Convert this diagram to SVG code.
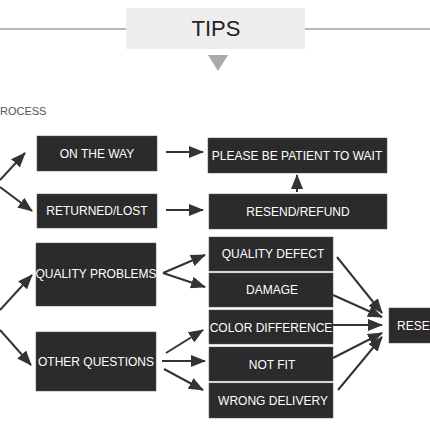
<svg xmlns="http://www.w3.org/2000/svg" width="430" height="430" viewBox="0 0 430 430">
<style>
.box{fill:#2b2b2b;stroke:#555;stroke-width:0.5}
.t{fill:#fff;font-family:"Liberation Sans",Arial,sans-serif;font-size:12px;text-anchor:middle}
.c{stroke:#333;stroke-width:2;fill:none;marker-end:url(#ah)}
</style>
<defs>
<marker id="ah" markerUnits="userSpaceOnUse" markerWidth="15" markerHeight="12" refX="14" refY="6" orient="auto">
<path d="M0,0 L15,6 L0,12 Z" fill="#333"/>
</marker>
</defs>
<rect width="430" height="430" fill="#fff"/>
<g id="header">
<line x1="0" y1="29" x2="126" y2="29" stroke="#777" stroke-width="1.2"/>
<line x1="305" y1="29" x2="430" y2="29" stroke="#777" stroke-width="1.2"/>
<rect x="126" y="8" width="179" height="41" fill="#eeeeee"/>
<text x="216" y="36" font-family="'Liberation Sans',Arial,sans-serif" font-size="22" fill="#222" text-anchor="middle">TIPS</text>
<path d="M208,55 L228,55 L218,71 Z" fill="#aaaaaa"/>
<text x="0" y="115" font-family="'Liberation Sans',Arial,sans-serif" font-size="11" fill="#555">ROCESS</text>
</g>
<g id="connectors">
<line class="c" x1="0" y1="180" x2="25" y2="153"/>
<line class="c" x1="0" y1="187" x2="32" y2="211"/>
<line class="c" x1="0" y1="310" x2="32" y2="275"/>
<line class="c" x1="0" y1="330" x2="31" y2="365"/>
<line class="c" x1="166" y1="152" x2="203" y2="152"/>
<line class="c" x1="166" y1="210" x2="203" y2="210"/>
<line class="c" x1="297" y1="192" x2="297" y2="175"/>
<line class="c" x1="163" y1="273" x2="205" y2="255"/>
<line class="c" x1="163" y1="273" x2="205" y2="287"/>
<line class="c" x1="166" y1="353" x2="203" y2="330"/>
<line class="c" x1="162" y1="361" x2="205" y2="361"/>
<line class="c" x1="164" y1="369" x2="203" y2="390"/>
<line class="c" x1="337" y1="257" x2="382" y2="313"/>
<line class="c" x1="333" y1="295" x2="382" y2="317"/>
<line class="c" x1="333" y1="325" x2="382" y2="325"/>
<line class="c" x1="333" y1="358" x2="382" y2="333"/>
<line class="c" x1="338" y1="390" x2="382" y2="337"/>
</g>
<g id="on-the-way"><rect class="box" x="37" y="136" width="120" height="35"/><text class="t" x="97" y="158">ON THE WAY</text></g>
<g id="returned-lost"><rect class="box" x="37" y="194" width="120" height="34"/><text class="t" x="97" y="215">RETURNED/LOST</text></g>
<g id="please-wait"><rect class="box" x="208" y="138" width="179" height="35"/><text class="t" x="297" y="160">PLEASE BE PATIENT TO WAIT</text></g>
<g id="resend-refund"><rect class="box" x="209" y="194" width="178" height="35"/><text class="t" x="298" y="216">RESEND/REFUND</text></g>
<g id="quality-problems"><rect class="box" x="36" y="243" width="120" height="63"/><text class="t" x="96" y="278">QUALITY PROBLEMS</text></g>
<g id="other-questions"><rect class="box" x="36" y="332" width="120" height="59"/><text class="t" x="96" y="366">OTHER QUESTIONS</text></g>
<g id="quality-defect"><rect class="box" x="209" y="237" width="124" height="34"/><text class="t" x="273" y="258">QUALITY DEFECT</text></g>
<g id="damage"><rect class="box" x="209" y="273" width="124" height="34"/><text class="t" x="272" y="294">DAMAGE</text></g>
<g id="color-difference"><rect class="box" x="209" y="310" width="124" height="34"/><text class="t" x="271" y="332">COLOR DIFFERENCE</text></g>
<g id="not-fit"><rect class="box" x="209" y="347" width="124" height="34"/><text class="t" x="272" y="369">NOT FIT</text></g>
<g id="wrong-delivery"><rect class="box" x="209" y="383" width="124" height="35"/><text class="t" x="273" y="405">WRONG DELIVERY</text></g>
<g id="resend"><rect class="box" x="389" y="308" width="50" height="35"/><text x="397" y="330" fill="#fff" font-family="'Liberation Sans',Arial,sans-serif" font-size="12">RESE</text></g>
</svg>
